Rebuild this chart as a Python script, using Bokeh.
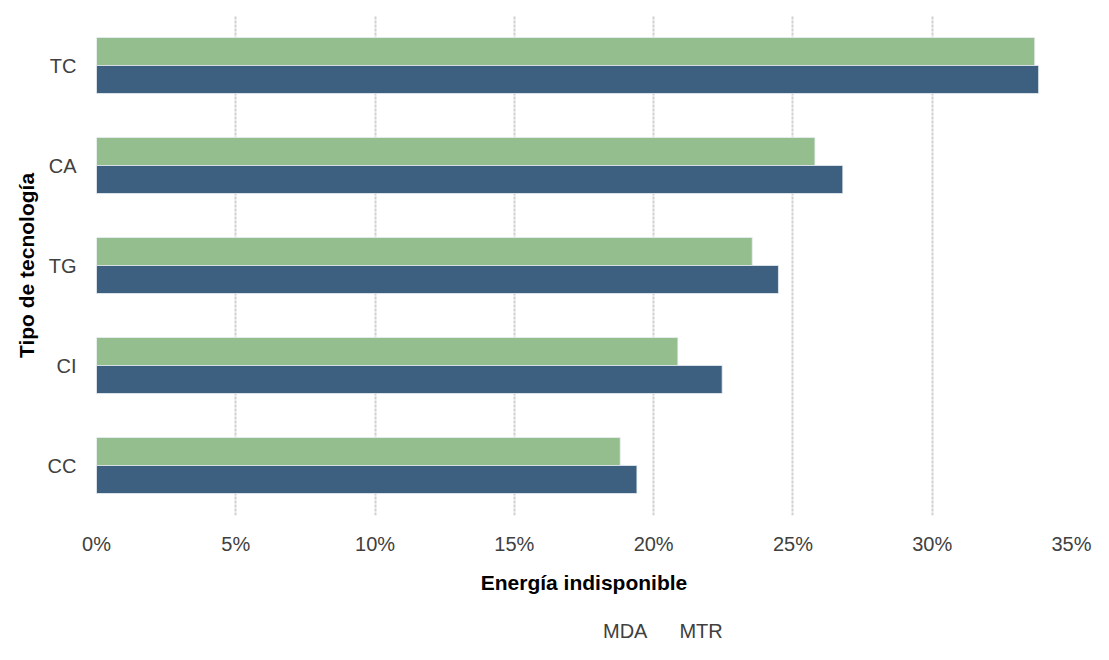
from bokeh.plotting import figure
from bokeh.layouts import column
from bokeh.models import (ColumnDataSource, FactorRange, Range1d, FixedTicker,
                          NumeralTickFormatter, Legend, LegendItem)
from bokeh.transform import dodge
from bokeh.embed import file_html
from bokeh.resources import INLINE

categories = ["CC", "CI", "TG", "CA", "TC"]
mda = [0.188, 0.2087, 0.2354, 0.2579, 0.3368]
mtr = [0.194, 0.2246, 0.2448, 0.2679, 0.3382]
series_names = ["MDA", "MTR"]
x_ticks = [0, 0.05, 0.10, 0.15, 0.20, 0.25, 0.30, 0.35]

FONT = "Liberation Sans"
GREEN = "#95BE8F"
BLUE = "#3D6080"
OUTLINE = "#e8eef2"

src = ColumnDataSource(dict(cat=categories, mda=mda, mtr=mtr))

# ---------------- main chart ----------------
p = figure(width=1093, height=600, output_backend="svg", toolbar_location=None,
           y_range=FactorRange(*categories, range_padding=0),
           x_range=Range1d(0, 0.35))
p.frame_width = 975
p.frame_height = 500
p.min_border_left = 96
p.min_border_top = 15
p.min_border_right = 22
p.min_border_bottom = 85
p.outline_line_color = None

p.hbar(y=dodge("cat", 0.14, range=p.y_range), right="mda", left=0, height=0.28,
       source=src, fill_color=GREEN, line_color=OUTLINE, line_width=0.8)
p.hbar(y=dodge("cat", -0.14, range=p.y_range), right="mtr", left=0, height=0.28,
       source=src, fill_color=BLUE, line_color=OUTLINE, line_width=0.8)

p.ygrid.grid_line_color = None
p.xgrid.ticker = FixedTicker(ticks=x_ticks)
p.xgrid.grid_line_color = "#d0d0d0"
p.xgrid.grid_line_width = 2
p.xgrid.grid_line_dash = "3 1"

p.xaxis.ticker = FixedTicker(ticks=x_ticks)
p.xaxis.formatter = NumeralTickFormatter(format="0%")
p.xaxis.axis_line_color = None
p.xaxis.major_tick_line_color = None
p.xaxis.minor_tick_line_color = None
p.xaxis.major_tick_out = 0
p.xaxis.major_tick_in = 0
p.xaxis.major_label_standoff = 17
p.xaxis.major_label_text_font = FONT
p.xaxis.major_label_text_font_size = "20px"
p.xaxis.major_label_text_color = "#404040"
p.xaxis.axis_label = "Energía indisponible"
p.xaxis.axis_label_text_font = FONT
p.xaxis.axis_label_text_font_size = "21px"
p.xaxis.axis_label_text_font_style = "bold"
p.xaxis.axis_label_text_color = "#000000"
p.xaxis.axis_label_standoff = 13

p.yaxis.axis_line_color = None
p.yaxis.major_tick_line_color = None
p.yaxis.minor_tick_line_color = None
p.yaxis.major_tick_out = 0
p.yaxis.major_tick_in = 0
p.yaxis.major_label_standoff = 20
p.yaxis.major_label_text_font = FONT
p.yaxis.major_label_text_font_size = "20px"
p.yaxis.major_label_text_color = "#404040"
p.yaxis.axis_label = "Tipo de tecnología"
p.yaxis.axis_label_text_font = FONT
p.yaxis.axis_label_text_font_size = "21px"
p.yaxis.axis_label_text_font_style = "bold"
p.yaxis.axis_label_text_color = "#000000"
p.yaxis.axis_label_standoff = 7

# ---------------- legend strip ----------------
leg = figure(width=1093, height=44, output_backend="svg", toolbar_location=None,
             x_range=Range1d(0, 1), y_range=Range1d(0, 1),
             x_axis_location=None, y_axis_location=None)
leg.min_border_left = 0
leg.min_border_right = 0
leg.min_border_top = 0
leg.min_border_bottom = 0
leg.outline_line_color = None
leg.xgrid.visible = False
leg.ygrid.visible = False

lr1 = leg.hbar(y=[], right=[], left=0, height=0.28,
               fill_color=GREEN, line_color=OUTLINE, line_width=0.8)
lr2 = leg.hbar(y=[], right=[], left=0, height=0.28,
               fill_color=BLUE, line_color=OUTLINE, line_width=0.8)

legend = Legend(items=[LegendItem(label=series_names[0], renderers=[lr1]),
                       LegendItem(label=series_names[1], renderers=[lr2])],
                orientation="horizontal", location=(492, 1),
                glyph_width=13, glyph_height=13, label_standoff=2, spacing=17,
                label_text_font=FONT, label_text_font_size="20px",
                label_text_color="#404040", border_line_color=None,
                background_fill_alpha=0, padding=0, margin=0)
leg.add_layout(legend, "center")

layout = column(p, leg, spacing=0)

open("out.html", "w").write(file_html(layout, INLINE))
